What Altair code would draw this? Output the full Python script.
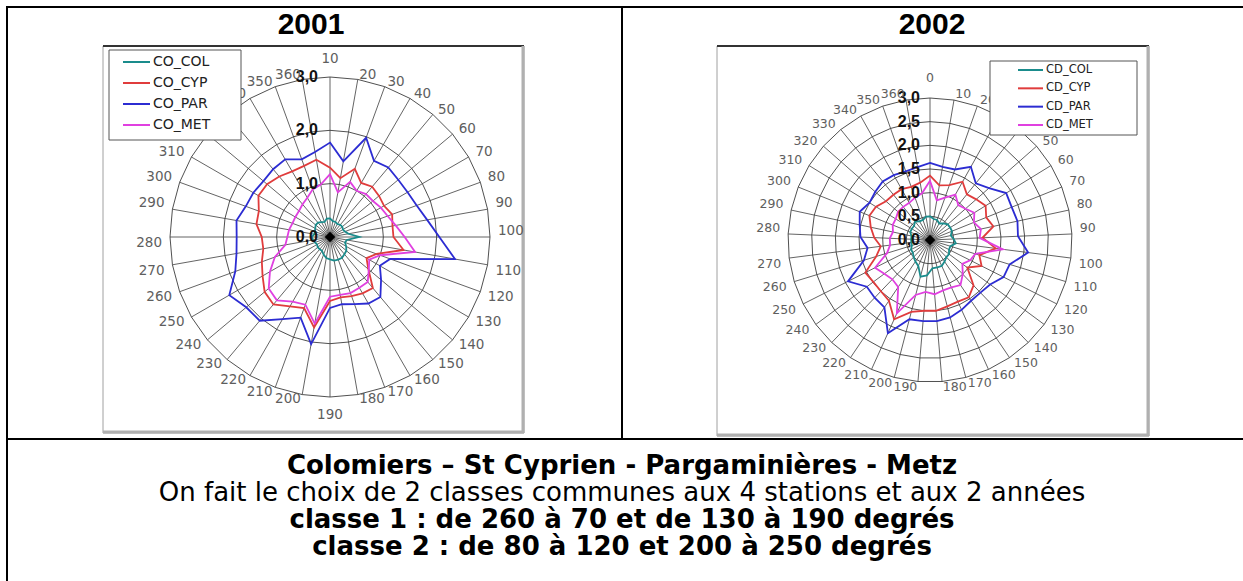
import altair as alt
import pandas as pd

# ---- direction classes (degrees) -------------------------------------------
dirs_2001 = list(range(10, 361, 10))   # 36 sectors, "10" at the top
dirs_2002 = list(range(0, 361, 10))    # 37 sectors, "0" at the top

series_2001 = ["CO_COL", "CO_CYP", "CO_PAR", "CO_MET"]
series_2002 = ["CD_COL", "CD_CYP", "CD_PAR", "CD_MET"]
series_colors = ["#1a8c8c", "#e03c3c", "#2c2cd2", "#e040e0"]

# ---- 2001 concentrations by direction --------------------------------------
col_2001 = [0.35, 0.30, 0.30, 0.28, 0.30, 0.30, 0.28, 0.30, 0.35, 0.55, 0.32, 0.30,
            0.35, 0.40, 0.42, 0.45, 0.45, 0.45, 0.42, 0.40, 0.35, 0.30, 0.30, 0.30,
            0.28, 0.30, 0.32, 0.34, 0.30, 0.30, 0.32, 0.35, 0.35, 0.32, 0.30, 0.35]
cyp_2001 = [1.30, 1.12, 1.36, 1.17, 1.23, 1.20, 1.17, 1.24, 1.19, 1.19, 1.40, 0.93,
            0.79, 0.94, 1.25, 1.22, 1.18, 1.15, 1.20, 1.72, 1.42, 1.50, 1.65, 1.60,
            1.46, 1.36, 1.27, 1.28, 1.40, 1.42, 1.55, 1.54, 1.48, 1.42, 1.42, 1.47]
par_2001 = [1.77, 1.44, 1.98, 1.65, 1.70, 1.67, 1.68, 1.73, 1.85, 2.05, 2.38, 1.20,
            1.08, 1.25, 1.47, 1.44, 1.34, 1.28, 1.33, 2.04, 1.61, 1.78, 2.05, 2.05,
            2.18, 1.89, 1.78, 1.75, 1.78, 1.68, 1.66, 1.63, 1.66, 1.68, 1.55, 1.62]
met_2001 = [1.18, 0.85, 1.10, 1.00, 1.05, 1.05, 1.10, 1.15, 1.25, 1.40, 1.62, 1.00,
            0.85, 0.95, 1.10, 1.10, 1.12, 1.10, 1.12, 1.65, 1.35, 1.40, 1.55, 1.50,
            1.30, 1.10, 0.85, 0.80, 0.78, 0.75, 0.75, 0.76, 0.80, 0.85, 0.95, 1.00]

# ---- 2002 concentrations by direction --------------------------------------
col_2002 = [0.50, 0.45, 0.45, 0.40, 0.45, 0.50, 0.50, 0.50, 0.45, 0.50, 0.55, 0.45,
            0.45, 0.50, 0.50, 0.55, 0.60, 0.60, 0.60, 0.75, 0.80, 0.60, 0.55, 0.50,
            0.45, 0.45, 0.40, 0.40, 0.40, 0.40, 0.45, 0.45, 0.45, 0.50, 0.45, 0.45, 0.50]
cyp_2002 = [1.36, 1.17, 1.23, 1.41, 1.24, 1.30, 1.38, 1.28, 1.37, 1.11, 1.40, 1.09,
            1.22, 0.98, 1.33, 1.46, 1.43, 1.45, 1.50, 1.50, 1.57, 1.84, 1.55, 1.50,
            1.49, 1.53, 1.19, 1.05, 1.18, 1.28, 1.38, 1.34, 1.24, 1.23, 1.23, 1.19, 1.23]
par_2002 = [1.63, 1.57, 1.58, 1.77, 1.54, 1.66, 1.89, 1.86, 1.89, 1.86, 2.09, 1.76,
            1.74, 1.58, 1.54, 1.55, 1.62, 1.69, 1.72, 1.72, 1.73, 2.16, 1.72, 1.69,
            1.66, 1.94, 1.46, 1.33, 1.47, 1.52, 1.60, 1.50, 1.54, 1.59, 1.57, 1.54, 1.56]
met_2002 = [1.25, 0.85, 0.95, 1.10, 0.95, 1.00, 1.10, 1.00, 1.10, 1.05, 1.55, 1.00,
            0.95, 0.85, 1.00, 1.15, 1.10, 1.10, 1.15, 1.10, 1.20, 1.70, 1.20, 1.15,
            1.20, 1.30, 0.95, 0.85, 0.85, 0.80, 0.85, 0.85, 0.90, 0.90, 0.90, 0.95, 1.00]

# ---- radial axis ------------------------------------------------------------
rings_2001 = [1.0, 2.0, 3.0]
ticks_2001 = [0.0, 1.0, 2.0, 3.0]
tick_labels_2001 = ["0,0", "1,0", "2,0", "3,0"]
rings_2002 = [0.5, 1.0, 1.5, 2.0, 2.5, 3.0]
ticks_2002 = [0.0, 0.5, 1.0, 1.5, 2.0, 2.5, 3.0]
tick_labels_2002 = ["0,0", "0,5", "1,0", "1,5", "2,0", "2,5", "3,0"]

titles = ["2001", "2002"]
caption = [
    ("Colomiers – St Cyprien - Pargaminières - Metz", "bold"),
    ("On fait le choix de 2 classes communes aux 4 stations et aux 2 années", "normal"),
    ("classe 1 : de 260 à 70 et de 130 à 190 degrés", "bold"),
    ("classe 2 : de 80 à 120 et 200 à 250 degrés", "bold"),
]

GRID = "#3c3c3c"
one = pd.DataFrame({"k": [0]})


def long_table(dirs, names, arrays):
    rows = []
    for name, vals in zip(names, arrays):
        for i, (d, v) in enumerate(zip(dirs, vals)):
            rows.append({"dir": d, "idx": i, "series": name, "value": v})
    return pd.DataFrame(rows)


def radar(dirs, names, arrays, rings, ticks, tick_labels, cx, cy, ppu,
          lab_rx, lab_ry, lab_extra, label_size, tick_dx):
    n = len(dirs)
    half = 3.8
    xs = alt.Scale(domain=[-half, half], range=[cx - half * ppu, cx + half * ppu],
                   nice=False, zero=False)
    ys = alt.Scale(domain=[-half, half], range=[cy + half * ppu, cy - half * ppu],
                   nice=False, zero=False)
    ang = f"2*PI*datum.idx/{n}"
    rmax = rings[-1]

    dir_df = pd.DataFrame({"dir": dirs, "idx": list(range(n))})
    ring_df = pd.DataFrame([{"r": r, "idx": i} for r in rings for i in range(n)])
    tick_df = pd.DataFrame({"v": ticks, "label": tick_labels})
    data = long_table(dirs, names, arrays)

    def X(f):
        return alt.X(f, scale=xs, axis=None)

    def Y(f):
        return alt.Y(f, scale=ys, axis=None)

    ring_layer = alt.Chart(ring_df).mark_line(
        interpolate="linear-closed", color=GRID, strokeWidth=0.9
    ).transform_calculate(
        a=ang, px="datum.r*sin(datum.a)", py="datum.r*cos(datum.a)"
    ).encode(x=X("px:Q"), y=Y("py:Q"), detail="r:N", order="idx:Q")

    spoke_layer = alt.Chart(dir_df).mark_rule(color=GRID, strokeWidth=0.8).transform_calculate(
        a=ang, o="0", ex=f"{rmax}*sin(datum.a)", ey=f"{rmax}*cos(datum.a)"
    ).encode(x=X("o:Q"), y=Y("o:Q"), x2="ex:Q", y2="ey:Q")

    line_layer = alt.Chart(data).mark_line(
        interpolate="linear-closed", strokeWidth=1.8
    ).transform_calculate(
        a=ang, px="datum.value*sin(datum.a)", py="datum.value*cos(datum.a)"
    ).encode(
        x=X("px:Q"), y=Y("py:Q"),
        color=alt.Color("series:N", scale=alt.Scale(domain=names, range=series_colors),
                        legend=None),
        order="idx:Q",
    )

    tick_layer = alt.Chart(tick_df).mark_text(
        align="right", baseline="middle", dx=tick_dx, font="Liberation Sans",
        fontWeight="bold", fontSize=16, color="#111111"
    ).transform_calculate(o="0").encode(x=X("o:Q"), y=Y("v:Q"), text="label:N")

    center_layer = alt.Chart(tick_df).transform_filter("datum.v == 0").transform_calculate(
        o="0"
    ).mark_point(shape="diamond", filled=True, color="black", size=110, opacity=1).encode(
        x=X("o:Q"), y=Y("o:Q"))

    # category labels sit just outside the outer ring, pushed sideways by half
    # their width so that their inner corner faces the ring
    digit = label_size * 0.636
    half_h = label_size * 0.45
    label_layer = alt.Chart(dir_df).mark_text(
        font="DejaVu Sans", fontSize=label_size, color="#5e5e5e",
        align="center", baseline="middle"
    ).transform_calculate(
        a=ang,
        sx="sin(datum.a) > 0.05 ? 1 : (sin(datum.a) < -0.05 ? -1 : 0)",
        sy="cos(datum.a) >= 0 ? 1 : -1",
        hw=f"length(toString(datum.dir)) * {digit / 2}",
        lx=f"({lab_rx}*sin(datum.a) + datum.sx*datum.hw) / {ppu}",
        ly=f"({lab_ry}*cos(datum.a) + datum.sy*({half_h} + (datum.sx == 0 ? {lab_extra} : 0))) / {ppu}",
    ).encode(x=X("lx:Q"), y=Y("ly:Q"), text=alt.Text("dir:Q", format="d"))

    return alt.layer(ring_layer, spoke_layer, line_layer, tick_layer, center_layer,
                     label_layer)


def legend(names, x0, x1, y0, y1, sx0, sx1, tx, row_top, row_bot, size):
    box = alt.Chart(one).mark_rect(fill="white", stroke="#555555", strokeWidth=1).encode(
        x=alt.value(x0), x2=alt.value(x1), y=alt.value(y0), y2=alt.value(y1))
    ys = alt.Scale(type="point", domain=names, range=[row_top, row_bot], padding=0)
    ldf = pd.DataFrame({"series": names})
    rules = alt.Chart(ldf).mark_rule(strokeWidth=2).encode(
        x=alt.value(sx0), x2=alt.value(sx1),
        y=alt.Y("series:N", scale=ys, axis=None),
        color=alt.Color("series:N", scale=alt.Scale(domain=names, range=series_colors),
                        legend=None))
    texts = alt.Chart(ldf).mark_text(
        align="left", baseline="middle", font="DejaVu Sans", fontSize=size, color="#222222"
    ).encode(x=alt.value(tx), y=alt.Y("series:N", scale=ys, axis=None), text="series:N")
    return alt.layer(box, rules, texts)


def picture_box(x0, x1, y0, y1):
    body = alt.Chart(one).mark_rect(fill="white", stroke="#a0a0a0", strokeWidth=1).encode(
        x=alt.value(x0), x2=alt.value(x1), y=alt.value(y0), y2=alt.value(y1))
    top = alt.Chart(one).mark_rule(color="#333333", strokeWidth=2).encode(
        x=alt.value(x0), x2=alt.value(x1), y=alt.value(y0))
    right = alt.Chart(one).mark_rule(color="#b0b0b0", strokeWidth=3).encode(
        x=alt.value(x1 - 1), y=alt.value(y0), y2=alt.value(y1))
    bottom = alt.Chart(one).mark_rule(color="#b0b0b0", strokeWidth=3).encode(
        x=alt.value(x0), x2=alt.value(x1), y=alt.value(y1 - 1))
    return [body, top, right, bottom]


def hline(y, x0, x1):
    return alt.Chart(one).mark_rule(color="black", strokeWidth=2).encode(
        x=alt.value(x0), x2=alt.value(x1), y=alt.value(y))


def vline(x, y0, y1):
    return alt.Chart(one).mark_rule(color="black", strokeWidth=2).encode(
        x=alt.value(x), y=alt.value(y0), y2=alt.value(y1))


radar_2001 = radar(dirs_2001, series_2001, [col_2001, cyp_2001, par_2001, met_2001],
                   rings_2001, ticks_2001, tick_labels_2001,
                   cx=330, cy=237, ppu=160 / 3, lab_rx=168, lab_ry=158, lab_extra=14,
                   label_size=13.5, tick_dx=-12)
radar_2002 = radar(dirs_2002, series_2002, [col_2002, cyp_2002, par_2002, met_2002],
                   rings_2002, ticks_2002, tick_labels_2002,
                   cx=930, cy=240, ppu=142 / 3, lab_rx=150, lab_ry=142, lab_extra=14,
                   label_size=12.5, tick_dx=-10)

legend_2001 = legend(series_2001, 109, 241, 50, 140, 123, 150, 153, 62, 125, 14)
legend_2002 = legend(series_2002, 990, 1137, 61, 135, 1018, 1043, 1046, 70, 125, 11.5)

title_layers = [
    alt.Chart(one).mark_text(text=t, font="Liberation Sans", fontWeight="bold", fontSize=30,
                             align="center", baseline="middle", color="black").encode(
        x=alt.value(x), y=alt.value(25))
    for t, x in zip(titles, [311, 932])
]

caption_layers = [
    alt.Chart(one).mark_text(text=txt, font="DejaVu Sans", fontWeight=w, fontSize=26,
                             align="center", baseline="middle", color="black").encode(
        x=alt.value(622), y=alt.value(466 + 27 * i))
    for i, (txt, w) in enumerate(caption)
]

frame = [
    hline(7, 6, 1243),
    vline(7, 6, 581),
    vline(622, 7, 439),
    hline(439, 7, 1243),
]

chart = alt.layer(
    *picture_box(103, 524, 46, 433),
    *picture_box(717, 1149, 46, 436),
    radar_2001,
    radar_2002,
    legend_2001,
    legend_2002,
    *title_layers,
    *caption_layers,
    *frame,
).resolve_scale(
    x="independent", y="independent", color="independent"
).properties(
    width=1243, height=581, padding=0, autosize=alt.AutoSizeParams(type="none"),
    background="white",
).configure_view(stroke=None)

chart.save("out.html", embed_options={"renderer": "svg", "actions": False})
